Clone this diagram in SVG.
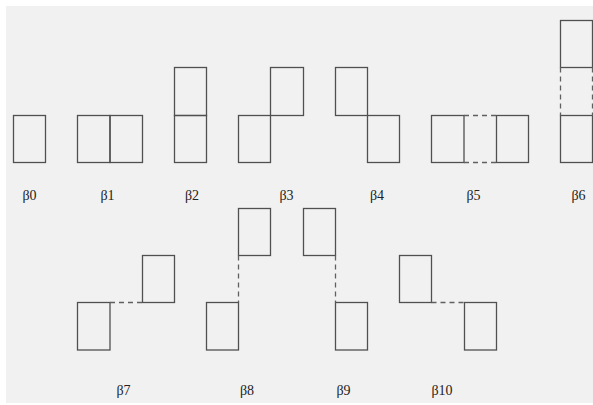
<svg xmlns="http://www.w3.org/2000/svg" width="593" height="405" viewBox="0 0 593 405">
<style>
.c{fill:none;stroke:#505050;stroke-width:1.3}
.d{fill:none;stroke:#606060;stroke-width:1.3;stroke-dasharray:5,4}
.t{font-family:"Liberation Serif",serif;font-size:14px;fill:#222}
</style>
<rect x="0" y="0" width="593" height="405" fill="#ffffff"/>
<rect x="6" y="6" width="587" height="397" fill="#f1f1f1"/>
<g id="b0">
<rect class="c" x="13.5" y="115.5" width="32" height="47"/>
<text class="t" x="22.5" y="200">β0</text>
</g>
<g id="b1">
<rect class="c" x="77.5" y="115.5" width="32.5" height="47"/>
<rect class="c" x="110" y="115.5" width="32.5" height="47"/>
<text class="t" x="100.5" y="200">β1</text>
</g>
<g id="b2">
<rect class="c" x="174.5" y="67.5" width="32" height="48"/>
<rect class="c" x="174.5" y="115.5" width="32" height="47"/>
<text class="t" x="185" y="200">β2</text>
</g>
<g id="b3">
<rect class="c" x="238.5" y="115.5" width="32" height="47"/>
<rect class="c" x="270.5" y="67.5" width="33" height="48"/>
<text class="t" x="279.5" y="200">β3</text>
</g>
<g id="b4">
<rect class="c" x="335.5" y="67.5" width="32" height="48"/>
<rect class="c" x="367.5" y="115.5" width="32" height="47"/>
<text class="t" x="370" y="200">β4</text>
</g>
<g id="b5">
<rect class="c" x="431.5" y="115.5" width="32.5" height="47"/>
<rect class="c" x="496.5" y="115.5" width="32" height="47"/>
<text class="t" x="466.5" y="200">β5</text>
</g>
<g id="b6">
<rect class="c" x="560.5" y="20.5" width="32" height="47"/>
<rect class="c" x="560.5" y="115.5" width="32" height="47"/>
<text class="t" x="571.5" y="200">β6</text>
</g>
<g id="b7">
<rect class="c" x="77.5" y="302.5" width="32.5" height="47.5"/>
<rect class="c" x="142.5" y="255.5" width="32" height="47"/>
<text class="t" x="116.5" y="395">β7</text>
</g>
<g id="b8">
<rect class="c" x="206.5" y="302.5" width="32" height="47.5"/>
<rect class="c" x="238.5" y="208.5" width="32" height="47"/>
<text class="t" x="240" y="395">β8</text>
</g>
<g id="b9">
<rect class="c" x="303.5" y="208.5" width="32" height="47"/>
<rect class="c" x="335.5" y="302.5" width="32" height="47.5"/>
<text class="t" x="336.5" y="395">β9</text>
</g>
<g id="b10">
<rect class="c" x="399.5" y="255.5" width="32" height="47"/>
<rect class="c" x="464.5" y="302.5" width="32" height="47.5"/>
<text class="t" x="431.5" y="395">β10</text>
</g>
<g id="connectors">
<line class="d" x1="464" y1="115.5" x2="496.5" y2="115.5"/>
<line class="d" x1="464" y1="162.5" x2="496.5" y2="162.5"/>
<line class="d" x1="560.5" y1="67.5" x2="560.5" y2="115.5"/>
<line class="d" x1="592.5" y1="67.5" x2="592.5" y2="115.5"/>
<line class="d" x1="110" y1="302.5" x2="142.5" y2="302.5"/>
<line class="d" x1="238.5" y1="255.5" x2="238.5" y2="302.5"/>
<line class="d" x1="335.5" y1="255.5" x2="335.5" y2="302.5"/>
<line class="d" x1="431.5" y1="302.5" x2="464.5" y2="302.5"/>
</g>
</svg>
